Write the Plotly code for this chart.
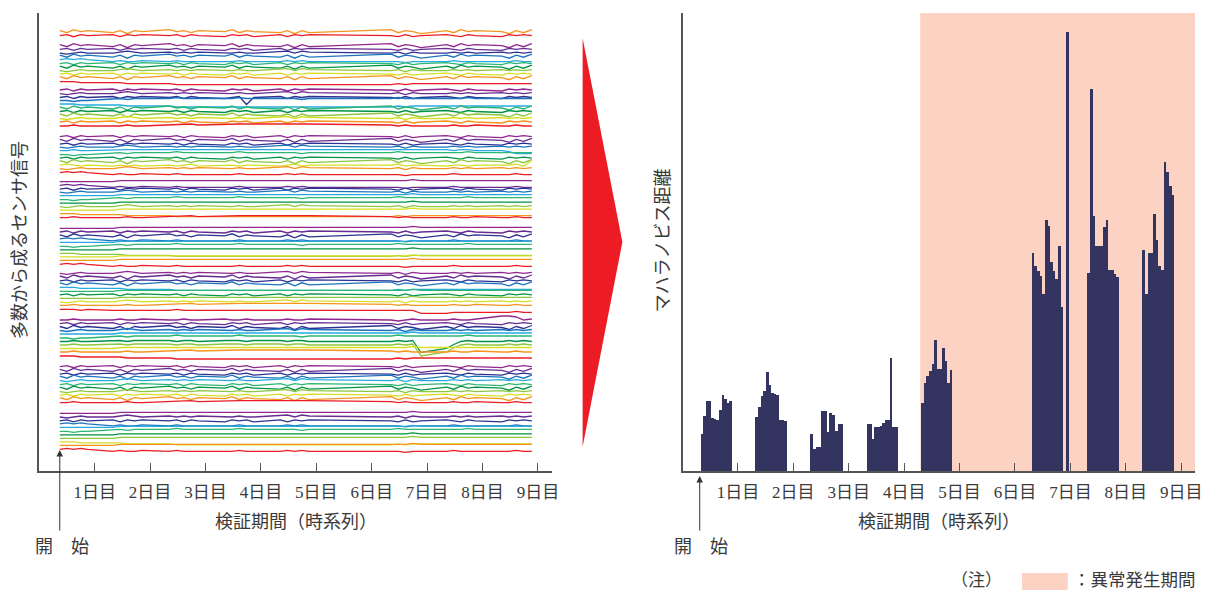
import plotly.graph_objects as go

W, H = 1209, 590

# ---------------- text ----------------
day_ticks = [1, 2, 3, 4, 5, 6, 7, 8, 9]
day_labels = ["1日目", "2日目", "3日目", "4日目", "5日目", "6日目", "7日目", "8日目", "9日目"]
x_title = "検証期間（時系列）"
left_title = "多数から成るセンサ信号"
right_title = "マハラノビス距離"
start_label = "開　始"
note_label = "（注）"
note_text = "：異常発生期間"

# ---------------- right panel: Mahalanobis distance bars ----------------
group_start = [0.317, 1.304, 2.296, 3.313, 4.300, 6.296, 7.295, 8.287]
group_end = [0.886, 1.878, 2.888, 3.874, 4.861, 6.960, 7.869, 8.868]
mahal_day1 = [37, 55, 70, 70, 53, 52, 51, 61, 76, 72, 68, 70]
mahal_day2 = [54, 64, 75, 80, 99, 86, 78, 77, 76, 51, 51, 50]
mahal_day3 = [37, 22, 24, 24, 60, 60, 39, 58, 56, 40, 47, 47]
mahal_day4 = [47, 47, 32, 44, 44, 45, 48, 51, 51, 113, 44, 44]
mahal_day5 = [68, 88, 95, 100, 107, 131, 102, 102, 123, 110, 88, 101]
mahal_day7 = [218, 205, 200, 195, 177, 251, 245, 209, 200, 192, 225, 164, 0, 439]
mahal_day8 = [198, 382, 255, 225, 225, 225, 244, 251, 201, 201, 197, 194]
mahal_day9 = [221, 177, 218, 218, 257, 231, 205, 201, 309, 299, 285, 276]
mahal_groups = [mahal_day1, mahal_day2, mahal_day3, mahal_day4,
                mahal_day5, mahal_day7, mahal_day8, mahal_day9]
anomaly_start = 4.29
x_end = 9.25

# ---------------- left panel: sensor signals ----------------
sample_days = [0.37, 0.50, 0.62, 0.75, 0.87, 1.33, 1.46, 1.59, 1.72, 1.85,
               2.35, 2.48, 2.61, 2.74, 2.87, 3.35, 3.48, 3.61, 3.74, 3.87,
               4.35, 4.48, 4.61, 4.74, 4.87, 6.35, 6.48, 6.61, 6.74, 6.89,
               7.35, 7.48, 7.61, 7.74, 7.87, 8.35, 8.48, 8.61, 8.74, 8.89]
# level of the first (purple) signal in each bundle, top to bottom
bundle_level = [471.3, 425.3, 381.0, 334.3, 289.3, 242.7, 197.7, 151.0, 104.3, 57.7]
# drop of each signal below its bundle's first signal
signal_drop = [0, 3.7, 7.5, 10.5, 14, 18, 21.5, 25, 28.5, 32, 36]

w_calm = [0,0,0,0,0, 0,1,1,1,1, 1,1,1,1,1, 1,1,1,1,1, 1,1,1,1,1, 1,1,1,2,1, 1,1,1,1,1, 1,1,1,1,1]
w_jit = [0,1,-1,1,0, 1,-1,1,0,1, 0,1,-1,1,0, -1,1,0,1,-1, 1,-1,1,0,1, 0,-1,1,-1,0, 1,0,-1,1,0, -1,1,0,1,0]
w_jit2 = [1,-1,2,0,1, -1,1,-2,1,0, 2,0,1,-1,1, 0,2,-1,1,0, -1,1,-2,1,-1, 2,-1,1,0,-2, 1,-1,2,0,1, 0,-2,1,-1,2]
w_down = [0,1,0,1,0, -2,-1,-2,-2,-1, -2,-1,-2,-2,-2, -2,-2,-1,-2,-2, -2,-1,-2,-1,-2, -2,-2,-3,-2,-2, -2,-1,-2,-2,-2, -2,-2,-1,-2,-2]
w_up = [0,0,-1,0,0, 2,2,1,2,2, 2,3,2,2,2, 2,2,3,2,2, 2,2,2,1,2, 2,3,2,2,2, 2,2,2,3,2, 2,2,2,2,2]
w_drift = [0,0,0,-1,-1, -1,-1,-2,-2,-2, -2,-3,-3,-3,-3, -3,-3,-3,-3,-3, -3,-3,-3,-3,-3, -3,-2,-3,-2,-2, -2,-2,-2,-2,-2, -2,-2,-2,-2,-2]
w_bump = [0,-1,0,1,0, 0,1,2,1,0, 1,0,1,0,1, 0,0,1,0,0, 1,2,0,2,1, 0,1,-1,1,0, 0,1,0,1,0, 1,0,1,0,1]
w_rise = [0,0,1,0,0, 0,0,1,0,0, 1,2,2,2,1, 2,2,2,2,2, 2,2,2,2,2, 1,0,1,0,0, 0,1,0,0,1, 0,0,1,0,0]
w_dip = [0,1,-1,1,0, 1,-1,1,0,1, 0,1,-1,1,0, -1,0,1,-7,0, 1,-1,1,0,1, 0,-1,1,-1,0, 1,0,-1,1,0, -1,1,0,1,0]
w_vdip = [0,0,1,0,0, 1,1,0,1,1, 1,0,1,1,0, 1,1,1,0,1, 1,0,1,1,0, 0,1,0,1,-11, -7,-3,0,1,0, 0,1,0,1,0]
w_plateau = [0,0,1,0,0, 0,1,0,0,1, 0,0,1,0,0, 1,0,0,1,0, 0,1,0,0,1, 0,-1,0,1,0, 0,1,0,0,1, 4,4,3,0,1]
w_step = [0,0,1,0,0, 1,1,1,1,1, 1,1,1,1,1, 1,1,1,1,1, 1,1,1,1,1, 1,1,1,1,1, 1,0,1,1,0, 0,-1,-3,-3,-3]
w_spike = [0,1,0,-1,0, -1,0,-1,0,-1, 0,-1,0,1,-1, 0,0,-1,0,0, -1,0,1,-1,0, 0,1,-1,0,0, -1,0,0,-1,0, 0,0,1,-1,5]
w_cross = [0,0,0,-1,0, -1,-1,-1,-1,-1, -1,0,-1,-1,-1, -1,-1,-1,-1,-1, -1,-1,-1,-1,-1, -1,-1,-1,-1,-4, -4,-3,-3,-3,-3, -3,-3,-2,-3,-3]

bundle_shapes = [
    [None, None, None, None, None, None, None, None, None, w_jit2, w_jit],
    [w_jit2, w_jit, w_bump, w_jit2, w_down, w_jit, w_jit2, w_bump, w_jit, w_jit2, w_drift],
    [w_jit, w_bump, w_dip, w_up, w_drift, w_jit2, w_jit, w_jit2, w_bump, w_jit, w_rise],
    [w_jit, w_jit2, w_jit, w_bump, w_step, w_up, w_jit, w_jit2, w_spike, w_bump, w_down],
    [w_calm, w_down, w_jit, w_bump, w_calm, w_up, w_calm, w_bump, w_calm, w_drift, w_rise],
    [w_calm, w_jit, w_jit2, w_down, w_calm, w_up, w_calm, w_drift, w_calm, w_calm, w_down],
    [w_bump, w_jit2, w_jit, w_jit2, w_drift, w_calm, w_jit, w_calm, w_bump, w_rise, w_cross],
    [w_plateau, w_jit, w_jit2, w_bump, w_calm, w_up, w_vdip, w_vdip, w_calm, w_rise, w_drift],
    [w_jit, w_jit2, w_jit, w_jit2, w_bump, w_jit, w_jit2, w_bump, w_jit, w_jit2, w_rise],
    [w_calm, w_bump, w_jit, w_down, w_calm, w_up, w_calm, w_calm, w_drift, w_calm, w_down],
]

# ---------------- styles ----------------
signal_colors = ["#92278F", "#662D91", "#2E3192", "#1C75BC", "#27AAE1", "#2BB673",
                 "#009444", "#8DC63F", "#D7DF23", "#F7941D", "#ED1C24"]
BAR = "#333560"
SHADE = "#FCD3C3"
AXIS = "#555555"
TXT = "#3a3a3a"
FONT = "Liberation Serif, Noto Sans CJK JP, sans-serif"
JFONT = "Noto Sans CJK JP, sans-serif"

fig = go.Figure()

for levels_top, shapes in zip(bundle_level, bundle_shapes):
    for k, shape in enumerate(shapes):
        if shape is None:
            continue
        base = levels_top - signal_drop[k]
        fig.add_trace(go.Scatter(
            x=sample_days, y=[base + v for v in shape], mode="lines",
            line=dict(color=signal_colors[k], width=1.3),
            xaxis="x", yaxis="y", hoverinfo="skip"))

bx, by, bw = [], [], []
for s, e, hs in zip(group_start, group_end, mahal_groups):
    w = (e - s) / len(hs)
    for i, h in enumerate(hs):
        bx.append(s + (i + 0.5) * w)
        by.append(h)
        bw.append(w)
fig.add_trace(go.Bar(x=bx, y=by, width=bw, xaxis="x2", yaxis="y2",
                     marker=dict(color=BAR, line=dict(width=0))))

# layout geometry
L0, L1 = 39.5 / W, 555.0 / W
R0, R1 = 686.5 / W, 1202.0 / W
Y0, Y1 = 1 - 471 / H, 1 - 13 / H

axis_common = dict(range=[0, x_end], showline=True, linecolor=AXIS, linewidth=1.5,
                   ticks="inside", ticklen=8, tickwidth=1.3, tickcolor=AXIS,
                   tickvals=day_ticks, ticktext=day_labels,
                   tickfont=dict(family=FONT, size=17, color=TXT),
                   ticklabelstandoff=5,
                   showgrid=False, zeroline=False, fixedrange=True)
yaxis_common = dict(range=[0, 458], domain=[Y0, Y1], showline=True, linecolor=AXIS,
                    linewidth=1.5, showticklabels=False, ticks="", showgrid=False,
                    zeroline=False, fixedrange=True)

def pxy(y):
    return 1 - y / H

def pxx(x):
    return x / W

def label(text, x, y, size=18, family=JFONT, angle=0, xanchor="center"):
    return dict(text=text, xref="paper", yref="paper", x=x, y=y, textangle=angle,
                xanchor=xanchor, yanchor="middle", showarrow=False,
                font=dict(family=family, size=size, color=TXT))

annotations = [
    label(x_title, (L0 + L1) / 2, pxy(522), family=FONT),
    label(x_title, (R0 + R1) / 2, pxy(522), family=FONT),
    label(left_title, pxx(18), pxy(240), angle=-90),
    label(right_title, pxx(665), pxy(240), angle=-90),
    label(start_label, pxx(62), pxy(545)),
    label(start_label, pxx(705), pxy(545)),
    label(note_label, pxx(982), pxy(578), size=17),
    label(note_text, pxx(1077), pxy(578), size=17.5, xanchor="left"),
    dict(text="", xref="x", yref="paper", x=sample_days[0], y=pxy(450),
         ax=0, ay=82, showarrow=True, arrowhead=2, arrowsize=1.3, arrowwidth=1,
         arrowcolor="#333333"),
    dict(text="", xref="x2", yref="paper", x=group_start[0] - 0.007, y=pxy(476),
         ax=0, ay=56, showarrow=True, arrowhead=2, arrowsize=1.3, arrowwidth=1,
         arrowcolor="#333333"),
]

shapes = [
    dict(type="rect", xref="x2", yref="y2 domain", x0=anomaly_start, x1=x_end,
         y0=0, y1=1, fillcolor=SHADE, line=dict(width=0), layer="below"),
    dict(type="rect", xref="paper", yref="paper", x0=pxx(1028), x1=pxx(1074),
         y0=pxy(590), y1=pxy(573), fillcolor=SHADE, line=dict(width=0)),
    dict(type="path", xref="paper", yref="paper",
         path=f"M {pxx(586)},{pxy(38)} L {pxx(626)},{pxy(242)} L {pxx(586)},{pxy(447)} Z",
         fillcolor="#ED1C24", line=dict(width=0)),
]

fig.update_layout(
    width=W, height=H, margin=dict(l=0, r=0, t=0, b=0),
    paper_bgcolor="white", plot_bgcolor="rgba(0,0,0,0)",
    showlegend=False, bargap=0,
    xaxis=dict(domain=[L0, L1], anchor="y", **axis_common),
    yaxis=dict(anchor="x", **yaxis_common),
    xaxis2=dict(domain=[R0, R1], anchor="y2", **axis_common),
    yaxis2=dict(anchor="x2", **yaxis_common),
    annotations=annotations, shapes=shapes,
)

fig.write_html(
    "out.html",
    config={"displayModeBar": False},
    post_script="document.body.style.margin='0';document.body.style.overflow='hidden';",
)
